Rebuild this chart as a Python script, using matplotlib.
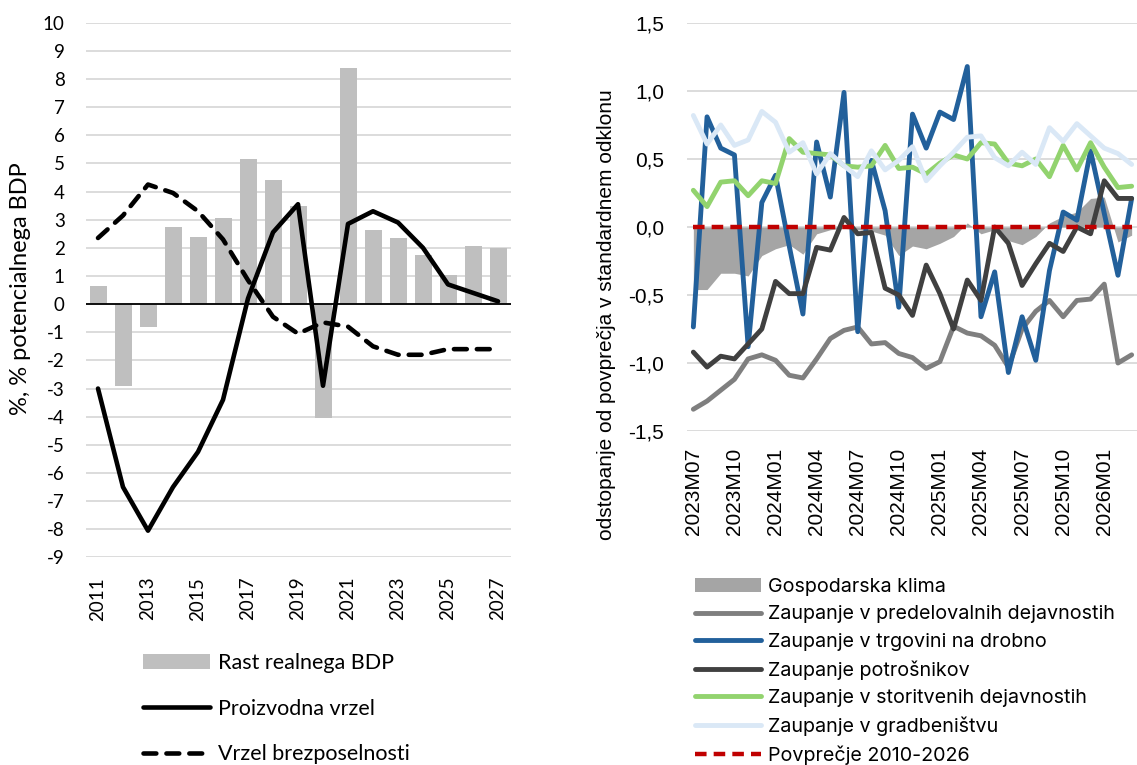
import numpy as np
import matplotlib.pyplot as plt

# levi graf - letni podatki
years = [2011, 2012, 2013, 2014, 2015, 2016, 2017, 2018, 2019,
         2020, 2021, 2022, 2023, 2024, 2025, 2026, 2027]
rast_bdp = [0.65, -2.9, -0.8, 2.75, 2.4, 3.05, 5.15, 4.4, 3.5,
            -4.05, 8.4, 2.65, 2.35, 1.75, 1.05, 2.05, 2.0]
proizvodna_vrzel = [-3.0, -6.5, -8.05, -6.5, -5.25, -3.4, 0.2, 2.55, 3.55,
                    -2.9, 2.85, 3.3, 2.9, 2.0, 0.7, 0.4, 0.1]
vrzel_brezposelnosti = [2.35, 3.15, 4.25, 3.95, 3.3, 2.3, 0.85, -0.45, -1.05,
                        -0.65, -0.8, -1.5, -1.8, -1.8, -1.6, -1.6, -1.6]

# desni graf - mesecni kazalniki zaupanja
months = ['2023M07', '2023M08', '2023M09', '2023M10', '2023M11', '2023M12',
          '2024M01', '2024M02', '2024M03', '2024M04', '2024M05', '2024M06',
          '2024M07', '2024M08', '2024M09', '2024M10', '2024M11', '2024M12',
          '2025M01', '2025M02', '2025M03', '2025M04', '2025M05', '2025M06',
          '2025M07', '2025M08', '2025M09', '2025M10', '2025M11', '2025M12',
          '2026M01', '2026M02', '2026M03']
gospodarska_klima = [-0.46, -0.46, -0.34, -0.34, -0.36, -0.21, -0.16, -0.13, -0.20,
                     -0.05, -0.02, -0.01, -0.02, -0.03, -0.06, -0.21, -0.14, -0.16,
                     -0.12, -0.07, 0.03, -0.05, -0.02, -0.10, -0.13, -0.07, 0.03,
                     0.08, 0.11, 0.21, 0.22, -0.11, -0.06]
predelovalne = [-1.34, -1.28, -1.20, -1.12, -0.97, -0.94, -0.98, -1.09, -1.11,
                -0.97, -0.82, -0.76, -0.735, -0.86, -0.85, -0.93, -0.96, -1.04,
                -0.99, -0.73, -0.78, -0.80, -0.87, -1.03, -0.75, -0.62, -0.54,
                -0.66, -0.54, -0.53, -0.42, -1.0, -0.94]
trgovina = [-0.735, 0.81, 0.58, 0.53, -0.88, 0.18, 0.38, -0.14, -0.64,
            0.625, 0.22, 0.99, -0.77, 0.49, 0.12, -0.59, 0.83, 0.58,
            0.845, 0.79, 1.18, -0.66, -0.33, -1.07, -0.66, -0.98, -0.32,
            0.11, 0.05, 0.56, 0.10, -0.355, 0.21]
potrosniki = [-0.92, -1.03, -0.95, -0.97, -0.86, -0.75, -0.40, -0.49, -0.49,
              -0.15, -0.17, 0.07, -0.05, -0.04, -0.45, -0.50, -0.65, -0.28,
              -0.49, -0.75, -0.39, -0.54, 0.0, -0.12, -0.43, -0.27, -0.12,
              -0.18, 0.0, -0.05, 0.34, 0.21, 0.21]
storitve = [0.27, 0.15, 0.33, 0.34, 0.23, 0.34, 0.32, 0.65, 0.55,
            0.54, 0.53, 0.45, 0.44, 0.45, 0.60, 0.43, 0.44, 0.39,
            0.47, 0.53, 0.50, 0.62, 0.61, 0.47, 0.45, 0.50, 0.37,
            0.60, 0.42, 0.62, 0.44, 0.29, 0.30]
gradbenistvo = [0.82, 0.61, 0.75, 0.60, 0.64, 0.85, 0.77, 0.55, 0.62,
                0.39, 0.54, 0.45, 0.37, 0.56, 0.42, 0.49, 0.59, 0.34,
                0.45, 0.55, 0.66, 0.67, 0.51, 0.45, 0.55, 0.46, 0.73,
                0.63, 0.76, 0.67, 0.58, 0.54, 0.46]
povprecje = 0.0

W, H = 1137, 765
fig = plt.figure(figsize=(W / 100, H / 100), dpi=100)

# ---- levi graf
axL = fig.add_axes([85.5 / W, 1 - 557.4 / H, 425 / W, (557.4 - 22.7) / H])
x = np.arange(len(years))
fL = 'Lato'
bars = axL.bar(x, rast_bdp, width=0.68, color='#BFBFBF', zorder=2)
axL.axhline(0, color='black', lw=1.3, zorder=3)
l1, = axL.plot(x, proizvodna_vrzel, color='black', lw=3.3, solid_joinstyle='round',
               solid_capstyle='round', zorder=4)
l2, = axL.plot(x, vrzel_brezposelnosti, color='black', lw=3.3, dashes=(2.8, 2.2),
               dash_capstyle='round', dash_joinstyle='round', zorder=5)
axL.set_xlim(-0.5, len(years) - 0.5)
axL.set_ylim(-9, 10)
yt = list(range(-9, 11))
axL.set_yticks(yt)
axL.set_yticklabels([str(v) for v in yt], fontsize=13.5, family=fL)
axL.set_xticks(x[::2])
axL.set_xticklabels([str(y) for y in years[::2]], rotation=90, fontsize=13.5, family=fL)
axL.yaxis.grid(True, color='#D9D9D9', lw=1.3)
axL.set_axisbelow(True)
axL.tick_params(length=0)
axL.tick_params(axis='y', pad=15)
axL.tick_params(axis='x', pad=14)
for s in axL.spines.values():
    s.set_visible(False)
fig.text(21 / W, 1 - 289 / H, '%, % potencialnega BDP', rotation=90,
         ha='center', va='center', fontsize=17, family=fL)
axL.legend([bars, l1, l2], ['Rast realnega BDP', 'Proizvodna vrzel', 'Vrzel brezposelnosti'],
           loc='upper left', bbox_to_anchor=(143 / W, 1 - 653 / H),
           bbox_transform=fig.transFigure, frameon=False, prop={'family': fL, 'size': 15.5},
           borderpad=0, borderaxespad=0, handlelength=3.12, handletextpad=0.37,
           labelspacing=1.19)

# ---- desni graf
axR = fig.add_axes([686.5 / W, 1 - 431 / H, 452 / W, 408 / H])
xm = np.arange(len(months))
fR = 'Liberation Sans'
axR.fill_between(xm, gospodarska_klima, 0, color='#A5A5A5', lw=0, zorder=2,
                 label='Gospodarska klima')
kw = dict(lw=3.5, solid_joinstyle='round', solid_capstyle='round')
axR.plot(xm, predelovalne, color='#7F7F7F', zorder=3,
         label='Zaupanje v predelovalnih dejavnostih', **kw)
axR.plot(xm, trgovina, color='#22609B', zorder=4,
         label='Zaupanje v trgovini na drobno', **kw)
axR.plot(xm, potrosniki, color='#404040', zorder=5,
         label='Zaupanje potrošnikov', **kw)
axR.plot(xm, storitve, color='#92D36E', zorder=6,
         label='Zaupanje v storitvenih dejavnostih', **kw)
axR.plot(xm, gradbenistvo, color='#DAE8F6', zorder=7,
         label='Zaupanje v gradbeništvu', **kw)
axR.plot(xm, [povprecje] * len(months), color='#C00000', lw=3.2, dashes=(2.6, 1.6),
         dash_capstyle='butt', zorder=8, label='Povprečje 2010-2026')
axR.set_xlim(-0.5, len(months) - 0.5)
axR.set_ylim(-1.5, 1.5)
yr = [-1.5, -1.0, -0.5, 0.0, 0.5, 1.0, 1.5]
axR.set_yticks(yr)
axR.set_yticklabels([f'{v:.1f}'.replace('.', ',') for v in yr], fontsize=15, family=fR)
axR.set_xticks(xm[::3])
axR.set_xticklabels(months[::3], rotation=90, fontsize=15, family=fR)
axR.yaxis.grid(True, color='#D9D9D9', lw=1.3)
axR.set_axisbelow(True)
axR.tick_params(length=0)
axR.tick_params(axis='y', pad=16)
axR.tick_params(axis='x', pad=12)
for s in axR.spines.values():
    s.set_visible(False)
fig.text(607 / W, 1 - 315 / H, 'odstopanje od povprečja v standardnem odklonu',
         rotation=90, ha='center', va='center', fontsize=15, family=fR)
axR.legend(loc='upper left', bbox_to_anchor=(695 / W, 1 - 578 / H),
           bbox_transform=fig.transFigure, frameon=False, prop={'family': 'Inter', 'size': 14.2},
           borderpad=0, borderaxespad=0, handlelength=3.35, handletextpad=0.34,
           labelspacing=0.48)

fig.savefig('out.png', dpi=100)
